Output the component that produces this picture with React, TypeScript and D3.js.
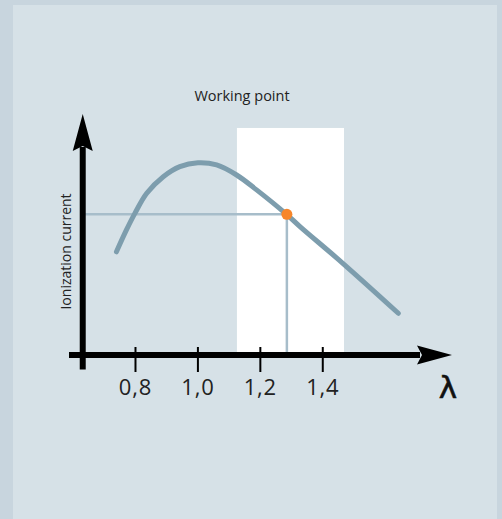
import React from "react";
import * as d3 from "d3";

// Curve samples: lambda vs. ionization current (arbitrary units)
const lambdaValues = [0.739, 0.771, 0.798, 0.836, 0.889, 0.942, 1.0, 1.06, 1.124, 1.188, 1.284, 1.327, 1.466, 1.642];
const currentValues = [43.0, 52.1, 59.0, 67.4, 74.3, 78.5, 80.1, 79.2, 75.0, 68.8, 58.6, 53.5, 38.0, 17.4];

const tickValues = [0.8, 1.0, 1.2, 1.4];
const tickLabels = ["0,8", "1,0", "1,2", "1,4"];

// Working point and the window around it
const workingPoint = { lambda: 1.285, current: 58.6 };
const windowRange = [1.125, 1.468];
const windowTop = 94.6;

const axisLambda = 0.631; // where the vertical axis sits
const xDomain: [number, number] = [0.587, 1.814];
const yDomain: [number, number] = [0, 100];

const W = 502;
const H = 519;

const App: React.FC = () => {
	const x = d3.scaleLinear().domain(xDomain).range([69, 452]);
	const y = d3.scaleLinear().domain(yDomain).range([355, 115]);

	const points = lambdaValues.map((l, i) => [l, currentValues[i]] as [number, number]);
	const line = d3
		.line<[number, number]>()
		.x((d) => x(d[0]))
		.y((d) => y(d[1]))
		.curve(d3.curveCatmullRom.alpha(0.5));

	const ax = x(axisLambda);
	const ay = y(0);
	const [x0, x1] = x.range();
	const yTop = y(yDomain[1]);
	const yBottom = y(-6);

	// arrow heads
	const hArrow = d3.path();
	hArrow.moveTo(x1, ay);
	hArrow.lineTo(x1 - 35, ay - 9.5);
	hArrow.lineTo(x1 - 30, ay);
	hArrow.lineTo(x1 - 35, ay + 9.5);
	hArrow.closePath();

	const vArrow = d3.path();
	vArrow.moveTo(ax, yTop - 1);
	vArrow.lineTo(ax - 10, yTop + 36);
	vArrow.lineTo(ax, yTop + 31);
	vArrow.lineTo(ax + 10, yTop + 36);
	vArrow.closePath();

	const font = "'Open Sans', 'Noto Sans', sans-serif";

	return (
		<div style={{ position: "absolute", left: 0, top: 0 }}>
			<svg width={W} height={H} style={{ display: "block" }}>
				<rect x={0} y={0} width={W} height={H} fill="#c8d5de" />
				<rect x={13} y={5} width={484} height={H - 5} fill="#d6e1e7" />

				{/* working window */}
				<rect
					x={x(windowRange[0])}
					y={y(windowTop)}
					width={x(windowRange[1]) - x(windowRange[0])}
					height={ay - y(windowTop)}
					fill="#ffffff"
				/>
				<text
					x={242}
					y={101}
					textAnchor="middle"
					fontFamily={font}
					fontSize={14.5}
					fill="#222"
				>
					Working point
				</text>

				{/* guide lines */}
				<line
					x1={ax}
					x2={x(workingPoint.lambda)}
					y1={y(workingPoint.current)}
					y2={y(workingPoint.current)}
					stroke="#a7bdca"
					strokeWidth={2.5}
				/>
				<line
					x1={x(workingPoint.lambda)}
					x2={x(workingPoint.lambda)}
					y1={y(workingPoint.current)}
					y2={ay}
					stroke="#a7bdca"
					strokeWidth={2.5}
				/>

				{/* axes */}
				<line x1={x0} x2={x1 - 32} y1={ay} y2={ay} stroke="#000" strokeWidth={6} />
				<path d={hArrow.toString()} fill="#000" />
				<line x1={ax} x2={ax} y1={yBottom} y2={yTop + 32} stroke="#000" strokeWidth={6} />
				<path d={vArrow.toString()} fill="#000" />

				{tickValues.map((t, i) => (
					<g key={t}>
						<line x1={x(t)} x2={x(t)} y1={ay - 8} y2={ay + 17} stroke="#000" strokeWidth={2} />
						<text
							x={x(t)}
							y={ay + 40}
							textAnchor="middle"
							fontFamily={font}
							fontSize={22}
							letterSpacing={0.8}
							fill="#222"
						>
							{tickLabels[i]}
						</text>
					</g>
				))}

				<text
					x={448}
					y={398}
					textAnchor="middle"
					fontFamily="'DejaVu Sans', sans-serif"
					fontSize={31}
					stroke="#111"
					strokeWidth={0.6}
					fill="#111"
				>
					λ
				</text>

				<text
					transform={`translate(${ax - 12},${(y(0) + y(windowTop)) / 2 + 10}) rotate(-90)`}
					textAnchor="middle"
					fontFamily={font}
					fontSize={14}
					fill="#222"
				>
					Ionization current
				</text>

				{/* curve */}
				<path
					d={line(points) ?? ""}
					fill="none"
					stroke="#7d9dad"
					strokeWidth={5}
					strokeLinecap="round"
				/>
				<circle cx={x(workingPoint.lambda)} cy={y(workingPoint.current)} r={5.5} fill="#f7862a" />
			</svg>
		</div>
	);
};

export default App;
